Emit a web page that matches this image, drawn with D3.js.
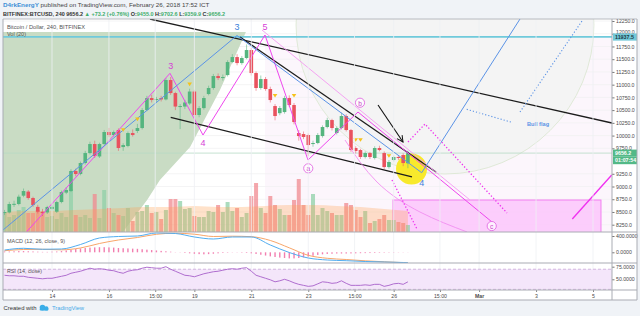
<!DOCTYPE html>
<html>
<head>
<meta charset="utf-8">
<script src="https://cdnjs.cloudflare.com/ajax/libs/d3/7.8.5/d3.min.js"></script>
<style>
  body { margin: 0; background: #f0f3f7; }
  svg { display: block; font-family: "Liberation Sans", Arial, sans-serif; }
</style>
</head>
<body>
<div id="chart"></div>
<script>
// BTCUSD 4h candles, Feb 12 08:00 -> Feb 26 12:00 (UTC)
var candleStart = "2018-02-12T08:00Z";
var open  = [8479,8490,8640,8656,8820,8900,8774,8600,8505,8490, 8560,8505,8695,8880,8911,9304,9245,9461,9657,9834,
             9590,9834,10070,10011,10109,9775,9795,10050,10090,10148, 10502,10737,10698,10737,10710,11091,10835,10570,10570,10630,
             10865,10404,10540,10816,10934,11169,11130,11189,11444,11542, 11424,11523,11680,11228,10934,11110,10914,10580,10440,10462,
             10737,10600,10050,10030,10011,9834,9854,9991,10168,10305, 10050,10148,10384,10109,9756,9716,9579,9657,9559,9756,
             9657,9382,9520,9579,9618,9455];
var close = [8499,8656,8660,8800,8911,8774,8636,8505,8479,8597, 8600,8695,8892,8931,9304,9245,9461,9657,9834,9598,
             9834,10070,10011,10070,9756,9814,10050,10011,10148,10502, 10737,10698,10718,10710,11091,10835,10570,10580,10650,10865,
             10404,10540,10737,10934,11169,11130,11150,11444,11542,11424, 11523,11680,11228,10934,11110,10914,10698,10384,10541,10737,
             10600,10266,9991,9972,9814,9854,10011,10168,10305,10148, 10148,10384,10109,9716,9697,9579,9657,9579,9756,9716,
             9382,9481,9579,9560,9461,9656.2];
var high  = [8540,8700,8720,8840,8960,8930,8800,8640,8560,8620, 8640,8720,8920,8990,9340,9350,9490,9700,9880,9900,
             9860,10110,10150,10100,10140,9850,10080,10120,10230,10540, 10780,10800,10760,10780,11130,11150,10860,10620,10700,10920,
             10900,10580,10780,10980,11210,11220,11200,11480,11600,11600, 11560,11790,11720,11260,11180,11150,10960,10620,10580,10780,
             10790,10640,10110,10080,10040,9900,10050,10200,10350,10330, 10180,10450,10420,10130,9790,9740,9690,9680,9790,9800,
             9690,9520,9610,9620,9650,9702.6];
var low   = [8440,8470,8600,8630,8790,8740,8600,8470,8420,8460, 8530,8480,8670,8850,8890,9200,9220,9430,9630,9560,
             9560,9810,9970,9980,9700,9700,9770,9980,10050,10120, 10480,10650,10660,10670,10690,10800,10500,10128,10520,10600,
             10350,10360,10510,10790,10900,11090,11080,11160,11420,11380, 11390,11500,11180,10880,10900,10880,10650,10300,10400,10430,
             10560,10220,9900,9930,9600,9780,9830,9960,10140,10100, 10020,10120,10080,9680,9650,9540,9550,9540,9530,9690,
             9340,9350,9490,9520,9400,9359.9];
var volume = [400,300,340,440,500,380,380,440,400,300, 320,260,380,300,860,340,300,340,280,760,
              280,840,480,380,340,320,480,220,400,420, 540,380,400,260,440,660,660,620,460,480,
              320,300,300,420,400,540,400,600,420,480, 300,380,720,980,480,380,720,540,460,340,
              340,640,1060,540,340,760,340,480,420,380, 340,340,580,540,440,300,420,180,220,260,
              340,240,240,200,180,140];
// Vol(20) average, read every 5 candles
var volMaIdx = [0,5,10,15,20,25,30,35,40,45,50,55,60,65,70,75,80,85];
var volMa    = [400,420,420,440,460,480,500,500,520,500,500,520,540,540,520,500,460,420];
// MACD (12,26,9), read every 4 candles
var macdIdx    = [0,4,8,12,16,20,24,28,32,36,40,44,48,52,56,60,64,68,72,76,80,84,85];
var macdLine   = [56,98,74,81,191,351,388,400,474,461,376,326,376,376,179,-5,-140,-189,-206,-226,-238,-250,-255];
var signalLine = [39,69,74,61,106,216,302,363,442,469,444,388,395,383,290,110,-74,-147,-177,-209,-233,-253,-258];
var macdHist = [20,20,25,30,30,25,20,15,10,10, 15,20,30,45,60,80,95,105,115,120,
                125,125,120,115,105,100,95,90,85,75, 65,55,45,35,25,15,5,-5,-15,-25,
                -35,-45,-50,-45,-35,-25,-15,-10,-5,-5, -10,-15,-25,-40,-60,-80,-100,-115,-130,-140,
                -150,-150,-140,-125,-105,-85,-65,-50,-40,-35, -30,-30,-30,-28,-25,-22,-20,-18,-15,-12,
                -10,-8,-6,-5,-4,-3];
var rsi = [58,57,57,56,56,54,53,52,51,52, 52,54,56,58,62,64,66,69,72,70,
           71,70,68,67,64,62,66,68,69,72, 74,73,72,72,75,70,66,62,58,57,
           55,58,61,63,65,66,68,70,71,70, 72,73,66,58,55,52,49,45,47,50,
           47,43,40,38,36,37,41,45,44,42, 43,47,42,38,38,38,39,38,40,40,
           36,38,41,42,40,45];
// fractal markers (candle index, price)
var fractalIdx   = [25,28,39,57,61,74,75,81];
var fractalPrice = [10109,10319,11006,10782,10782,9913,9913,9599];

// 9500 sits under the countdown tag, so it is not labelled
var priceTicks = [8250,8500,8750,9000,9250,9750,10000,10250,10500,10750,11000,11250,11500,11750,12000,12250];
var timeTicks  = ["2018-02-14T00:00Z","2018-02-16T00:00Z","2018-02-17T15:00Z","2018-02-19T00:00Z","2018-02-21T00:00Z",
                  "2018-02-23T00:00Z","2018-02-24T15:00Z","2018-02-26T00:00Z","2018-02-27T15:00Z","2018-03-01T00:00Z",
                  "2018-03-03T00:00Z","2018-03-05T00:00Z"];
var timeLabels = ["14","16","15:00","19","21","23","15:00","26","15:00","Mar","3","5"];

// drawings, as [days after Feb 14, price]
var greenZone    = [[-2,12034],[6.81,12034],[5.9,10895],[4.85,9776],[3.79,9128],[3.34,8735],[2.49,8107],[-2,8107]];
var resistance   = 11937.5;
var blueWave     = [[-1.72,8146],[6.497,11965],[12.984,9271],[16.436,12289]];
var flagDots     = [[14.564,10516],[16.145,10261]];
var poleDots     = [[16.436,10463],[18.614,12250]];
var blackLines   = [[[3.442,12289],[19.667,10247]], [[4.169,10359],[12.643,9187]], [[6.603,11935],[13.486,9285]]];
var arrowLine    = [[11.449,10600],[12.327,9874]];
var magentaWave  = [[-0.889,8113],[4.144,11223],[5.303,10011],[7.481,11975],[8.991,9520],[10.747,10463],[15.453,8303]];
var pinkChannel  = [[7.375,12073],[14.681,8735]];
var pinkArc      = [[10.29,9913],[11.414,9088],[12.924,8499],[14.575,8107]];
var pinkDotsA    = [[12.503,9874],[13.1,10227],[15.98,8480]];
var pinkDotsB    = [[11.941,9128],[12.819,8166]];
var pinkBox      = [[11.976,8735],[19.28,8000]];
var magentaRise  = [[18.273,8362],[19.657,9226]];
var yellowSpot   = [12.626,9344];
var grayCircle   = [13.802,12171,9246]; // centre day, centre price, price at lowest rim
var waveLabels = [
  {t:"3", d:4.169, p:11372, c:"#d63fd6"}, {t:"4", d:5.303, p:9854, c:"#d63fd6"}, {t:"5", d:7.481, p:12138, c:"#d63fd6"},
  {t:"3", d:6.497, p:12132, c:"#3d7fd9"}, {t:"4", d:12.984, p:9075, c:"#3d7fd9"}
];
var circleLabels = [{t:"a", d:9.0, p:9357}, {t:"b", d:10.817, p:10645}, {t:"c", d:15.443, p:8224}];

// ---------------------------------------------------------------
var W = 640, H = 316;
var paneL = 3, paneR = 612, paneT = 19, mainB = 232, macdB = 263, rsiB = 290, axisB = 300;

var svg = d3.select("#chart").append("svg").attr("width", W).attr("height", H);

var T0 = Date.parse("2018-02-14T00:00Z");
var x = d3.scaleUtc().domain([new Date(T0), new Date("2018-03-05T00:00Z")]).range([52, 593]);
var y = d3.scaleLinear().domain([8250, 12250]).range([224.7, 21]);
var yVol = d3.scaleLinear().domain([0, 1000]).range([mainB, 182]);
var yMacd = d3.scaleLinear().domain([0, 400]).range([252.3, 236]);
var yRsi = d3.scaleLinear().domain([50, 75]).range([279.3, 266.7]);

var c0 = Date.parse(candleStart);
function cx(i) { return x(new Date(c0 + i * 4 * 3600e3)); }
function at(d) { return [x(new Date(T0 + d[0] * 864e5)), y(d[1])]; }
var line = d3.line().x(function(d) { return at(d)[0]; }).y(function(d) { return at(d)[1]; });

var UP = "#55b57f", DOWN = "#e9525e";

// frame
svg.append("rect").attr("x", paneL).attr("y", paneT).attr("width", 637 - paneL).attr("height", axisB - paneT)
   .attr("fill", "#fff");

var defs = svg.append("defs");
function clip(id, top, bottom) {
  defs.append("clipPath").attr("id", id).append("rect")
      .attr("x", paneL).attr("y", top).attr("width", paneR - paneL).attr("height", bottom - top);
}
clip("cMain", paneT, mainB); clip("cMacd", mainB, macdB); clip("cRsi", macdB, rsiB);
defs.append("marker").attr("id", "arr").attr("viewBox", "0 0 10 10").attr("refX", 9).attr("refY", 5)
    .attr("markerWidth", 7).attr("markerHeight", 7).attr("orient", "auto")
    .append("path").attr("d", "M1,1 L9,5 L1,9").attr("fill", "none").attr("stroke", "#111").attr("stroke-width", 1.3);

var g = svg.append("g").attr("clip-path", "url(#cMain)");

// faint pink tint right of wave 5
g.append("rect").attr("x", at([7.48, 0])[0]).attr("y", y(resistance)).attr("width", paneR)
 .attr("height", mainB - y(resistance)).attr("fill", "#fcf6fc");

// grid
timeTicks.forEach(function(t) {
  svg.append("line").attr("x1", x(new Date(t))).attr("x2", x(new Date(t))).attr("y1", paneT).attr("y2", rsiB)
     .attr("stroke", "#edf0f4").attr("stroke-width", 0.8);
});
priceTicks.forEach(function(p) {
  g.append("line").attr("x1", paneL).attr("x2", paneR).attr("y1", y(p)).attr("y2", y(p))
   .attr("stroke", "#f1f1f3").attr("stroke-width", 0.8);
});

// big grey circle
var gcc = at([grayCircle[0], grayCircle[1]]);
g.append("circle").attr("cx", gcc[0]).attr("cy", gcc[1]).attr("r", y(grayCircle[2]) - gcc[1])
 .attr("fill", "#f4f4f4").attr("stroke", "#d9e6cf").attr("stroke-width", 0.8);

// green zone
g.append("path").attr("d", line(greenZone) + "Z").attr("fill", "#c9dcc4");

// pink box
var pb0 = at(pinkBox[0]), pb1 = at(pinkBox[1]);
g.append("rect").attr("x", pb0[0]).attr("y", pb0[1]).attr("width", pb1[0] - pb0[0]).attr("height", pb1[1] - pb0[1])
 .attr("fill", "#fcc5fb").attr("fill-opacity", 0.85).attr("stroke", "#f27ff0").attr("stroke-width", 1);

// volume
var idx = d3.range(open.length);
g.selectAll(".vol").data(idx).enter().append("rect")
 .attr("x", function(i) { return cx(i) - 2; }).attr("width", 4)
 .attr("y", function(i) { return yVol(volume[i]); })
 .attr("height", function(i) { return yVol(0) - yVol(volume[i]); })
 .attr("fill", function(i) { return close[i] >= open[i] ? "#8fd0a8" : "#f08a90"; })
 .attr("fill-opacity", 0.75);
g.append("path").datum(volMaIdx)
 .attr("d", d3.area().x(function(i) { return cx(i); }).y0(yVol(0))
   .y1(function(i, k) { return yVol(volMa[k]); }).curve(d3.curveMonotoneX))
 .attr("fill", "#ffa050").attr("fill-opacity", 0.3);

// current price line & resistance
g.append("line").attr("x1", paneL).attr("x2", paneR).attr("y1", y(close[close.length - 1])).attr("y2", y(close[close.length - 1]))
 .attr("stroke", "#b7dcc6").attr("stroke-width", 0.8);
g.append("line").attr("x1", paneL).attr("x2", paneR).attr("y1", y(resistance)).attr("y2", y(resistance))
 .attr("stroke", "#6fcadb").attr("stroke-width", 1.8);

// yellow spot
var ys = at(yellowSpot);
g.append("circle").attr("cx", ys[0]).attr("cy", ys[1]).attr("r", 15.5).attr("fill", "#f8e92c");

// candles
var cg = g.selectAll(".cdl").data(idx).enter().append("g");
cg.append("line").attr("x1", cx).attr("x2", cx)
  .attr("y1", function(i) { return y(high[i]); }).attr("y2", function(i) { return y(low[i]); })
  .attr("stroke", function(i) { return close[i] >= open[i] ? UP : DOWN; }).attr("stroke-opacity", 0.55);
cg.append("rect").attr("x", function(i) { return cx(i) - 1.8; }).attr("width", 3.6)
  .attr("y", function(i) { return y(Math.max(open[i], close[i])); })
  .attr("height", function(i) { return Math.max(1, Math.abs(y(open[i]) - y(close[i]))); })
  .attr("fill", function(i) { return close[i] >= open[i] ? UP : DOWN; });

// drawings
blackLines.forEach(function(l) {
  g.append("path").attr("d", line(l)).attr("stroke", "#1c1c1c").attr("stroke-width", 1.3).attr("fill", "none");
});
g.append("path").attr("d", line(pinkChannel)).attr("stroke", "#f49af2").attr("stroke-width", 0.9).attr("fill", "none");
g.append("path").attr("d", line.curve(d3.curveNatural)(pinkArc)).attr("stroke", "#f28ef0").attr("stroke-width", 0.9).attr("fill", "none");
line.curve(d3.curveLinear);
g.append("path").attr("d", line(magentaWave)).attr("stroke", "#ee46ee").attr("stroke-width", 1).attr("fill", "none");
g.append("path").attr("d", line(blueWave)).attr("stroke", "#5b93e6").attr("stroke-width", 1).attr("fill", "none");
[flagDots, poleDots].forEach(function(l) {
  g.append("path").attr("d", line(l)).attr("stroke", "#5b93e6").attr("stroke-width", 1.1)
   .attr("stroke-dasharray", "1.2,2").attr("fill", "none");
});
[pinkDotsA, pinkDotsB].forEach(function(l) {
  g.append("path").attr("d", line(l)).attr("stroke", "#ee33ee").attr("stroke-width", 1.3)
   .attr("stroke-dasharray", "1.3,2").attr("fill", "none");
});
g.append("path").attr("d", line(magentaRise)).attr("stroke", "#f030f0").attr("stroke-width", 1.3).attr("fill", "none");
g.append("path").attr("d", line(arrowLine)).attr("stroke", "#111").attr("stroke-width", 1.1)
 .attr("fill", "none").attr("marker-end", "url(#arr)");

// fractal triangles
fractalIdx.forEach(function(i, k) {
  var px = cx(i), py = y(fractalPrice[k]);
  g.append("path").attr("d", "M" + (px - 2.3) + "," + (py - 1.8) + "L" + (px + 2.3) + "," + (py - 1.8) + "L" + px + "," + (py + 1.8) + "Z")
   .attr("fill", "#f5c21b");
});

// labels
waveLabels.forEach(function(l) {
  var p = at([l.d, l.p]);
  g.append("text").attr("x", p[0]).attr("y", p[1]).attr("text-anchor", "middle").attr("dominant-baseline", "central")
   .attr("font-size", 9).attr("fill", l.c).text(l.t);
});
circleLabels.forEach(function(l) {
  var p = at([l.d, l.p]);
  g.append("circle").attr("cx", p[0]).attr("cy", p[1]).attr("r", 4.6).attr("fill", "#fff").attr("fill-opacity", 0.7)
   .attr("stroke", "#e26be2").attr("stroke-width", 0.9);
  g.append("text").attr("x", p[0]).attr("y", p[1] + 0.3).attr("text-anchor", "middle").attr("dominant-baseline", "central")
   .attr("font-size", 6.5).attr("fill", "#c93fc9").text(l.t);
});
var bf = at([17.07, 10227]);
g.append("text").attr("x", bf[0]).attr("y", bf[1]).attr("text-anchor", "middle").attr("dominant-baseline", "central")
 .attr("font-size", 5.6).attr("font-weight", "bold").attr("fill", "#5b93e6").text("Bull flag");

// ---- MACD pane ----
var gm = svg.append("g").attr("clip-path", "url(#cMacd)");
gm.selectAll(".h").data(idx).enter().append("rect")
  .attr("x", function(i) { return cx(i) - 0.7; }).attr("width", 1.4)
  .attr("y", function(i) { return Math.min(yMacd(0), yMacd(macdHist[i])); })
  .attr("height", function(i) { return Math.abs(yMacd(0) - yMacd(macdHist[i])); })
  .attr("fill", "#f27fb0");
var mline = d3.line().x(function(d) { return cx(d[0]); }).y(function(d) { return yMacd(d[1]); }).curve(d3.curveMonotoneX);
gm.append("path").attr("d", mline(macdIdx.map(function(i, k) { return [i, signalLine[k]]; })))
  .attr("stroke", "#f8a66a").attr("stroke-width", 1).attr("fill", "none");
gm.append("path").attr("d", mline(macdIdx.map(function(i, k) { return [i, macdLine[k]]; })))
  .attr("stroke", "#52adf0").attr("stroke-width", 1).attr("fill", "none");

// ---- RSI pane ----
var gr = svg.append("g").attr("clip-path", "url(#cRsi)");
gr.append("rect").attr("x", paneL).attr("width", paneR - paneL).attr("y", yRsi(70)).attr("height", yRsi(30) - yRsi(70))
  .attr("fill", "#f4e6fa");
[70, 30].forEach(function(v) {
  gr.append("line").attr("x1", paneL).attr("x2", paneR).attr("y1", yRsi(v)).attr("y2", yRsi(v))
    .attr("stroke", "#c9a8d8").attr("stroke-width", 0.8).attr("stroke-dasharray", "3,2");
});
gr.append("path").datum(idx)
  .attr("d", d3.line().x(cx).y(function(i) { return yRsi(rsi[i]); }))
  .attr("stroke", "#a760c9").attr("stroke-width", 0.9).attr("fill", "none");

// pane titles
function label(t, px, py, len, col, fs) {
  svg.append("text").attr("x", px).attr("y", py).attr("font-size", fs || 5.8).attr("fill", col || "#555")
     .attr("textLength", len).attr("lengthAdjust", "spacingAndGlyphs").text(t);
}
label("Bitcoin / Dollar, 240, BITFINEX", 7, 28.8, 78);
label("Vol (20)", 7, 36.4, 19);
label("MACD (12, 26, close, 9)", 7, 242.6, 58);
label("RSI (14, close)", 7, 273.4, 35);

// ---- axes ----
var ax = svg.append("g").attr("transform", "translate(" + paneR + ",0)")
  .call(d3.axisRight(y).tickValues(priceTicks).tickFormat(d3.format(".1f")).tickSize(2.5).tickPadding(1.5));
ax.append("g").call(d3.axisRight(yMacd).tickValues([0, 400]).tickFormat(d3.format(".4f")).tickSize(2.5).tickPadding(1.5));
ax.append("g").call(d3.axisRight(yRsi).tickValues([50, 75]).tickFormat(d3.format(".4f")).tickSize(2.5).tickPadding(1.5));
ax.selectAll(".domain").remove();
ax.selectAll("text").attr("font-size", 5.2).attr("fill", "#4a4a4a").attr("font-family", "Liberation Sans, Arial");
ax.selectAll("line").attr("stroke", "#777");
// 12000 is half covered by the resistance tag in the screenshot; lift it a little
ax.selectAll(".tick").filter(function(d) { return d === 12000; }).select("text").attr("y", -1.7);

var tx = svg.append("g").attr("transform", "translate(0," + rsiB + ")")
  .call(d3.axisBottom(x).tickValues(timeTicks.map(function(t) { return new Date(t); }))
        .tickFormat(function(d, i) { return timeLabels[i]; }).tickSize(2).tickPadding(2));
tx.select(".domain").remove();
tx.selectAll("text").attr("font-size", 5.2).attr("fill", "#4a4a4a").attr("font-family", "Liberation Sans, Arial")
  .attr("font-weight", function(d, i) { return timeLabels[i] == "Mar" ? "bold" : null; });
tx.selectAll("line").attr("stroke", "#888");

// axis tags
function tag(val, txt, fill, col, dy) {
  var py = y(val) + (dy || 0);
  svg.append("rect").attr("x", paneR + 1).attr("y", py - 3.5).attr("width", 24).attr("height", 7.2).attr("fill", fill);
  svg.append("text").attr("x", paneR + 3).attr("y", py + 1.9).attr("font-size", 5.3).attr("font-weight", "bold")
     .attr("fill", col).text(txt);
}
tag(resistance, "11937.5", "#72c8d8", "#1d3a44");
tag(close[close.length - 1], "9656.2", "#53b987", "#fff");
tag(close[close.length - 1], "01:07:54", "#53b987", "#fff", 7.4);

// borders
var bc = "#a9acb3";
[paneT, mainB, macdB, rsiB, axisB].forEach(function(v) {
  svg.append("line").attr("x1", paneL).attr("x2", 637).attr("y1", v).attr("y2", v).attr("stroke", bc).attr("stroke-width", v == paneT ? 0.8 : 1.2);
});
[paneL, paneR, 637].forEach(function(v) {
  svg.append("line").attr("x1", v).attr("x2", v).attr("y1", paneT).attr("y2", axisB).attr("stroke", bc).attr("stroke-width", 1);
});

// header lines, squeezed horizontally to the width seen in the screenshot
function headerLine(py, width, fs, bold, parts) {
  var hg = svg.append("g");
  var t = hg.append("text").attr("x", 0).attr("y", 0).attr("font-size", fs).attr("font-weight", bold ? "bold" : null);
  parts.forEach(function(s) {
    t.append("tspan").attr("fill", s[1]).attr("font-weight", s[2] ? "bold" : null).text(s[0]);
  });
  var len = t.node().getComputedTextLength();
  hg.attr("transform", "translate(3," + py + ") scale(" + (width / len) + ",1)");
}
var grn = "#3fae6c";
headerLine(7.2, 207, 6.0, false, [["D4rkEnergY", "#3d8fd6", true],
  [" published on TradingView.com, February 26, 2018 17:52 ICT", "#444"]]);
headerLine(15.6, 222, 5.9, true, [["BITFINEX:BTCUSD, 240 ", "#333"], ["9656.2 ", "#333"], ["\u25B2 +73.2 (+0.76%) ", grn],
  ["O:", "#333"], ["9455.0", grn], [" H:", "#333"], ["9702.6", grn], [" L:", "#333"], ["9359.9", grn],
  [" C:", "#333"], ["9656.2", grn]]);

// footer
label("Created with", 3.5, 310.3, 33, "#333", 6.2);
var logo = svg.append("g").attr("fill", "#3aaee8");
logo.append("circle").attr("cx", 42.5).attr("cy", 307.6).attr("r", 2.8);
logo.append("circle").attr("cx", 46.3).attr("cy", 308.4).attr("r", 2.2);
logo.append("rect").attr("x", 39.6).attr("y", 308.4).attr("width", 8.8).attr("height", 2.2).attr("rx", 1);
label("TradingView", 52, 310.3, 32, "#45a9e8", 6.2);
</script>
</body>
</html>
